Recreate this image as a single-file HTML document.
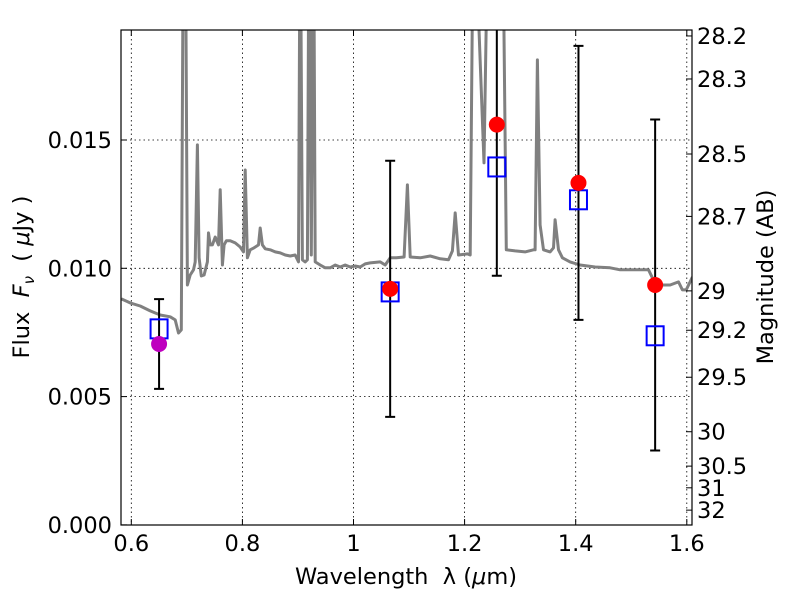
<!DOCTYPE html>
<html><head><meta charset="utf-8"><style>
html,body{margin:0;padding:0;background:#fff;}
svg text{font-family:"DejaVu Sans","Liberation Sans",sans-serif;fill:#000;white-space:pre;}
</style></head><body>
<svg id="chart" width="800" height="600" viewBox="0 0 800 600" xmlns="http://www.w3.org/2000/svg">
<defs><clipPath id="pc"><rect x="121" y="30" width="571" height="495"/></clipPath></defs>
<rect x="0" y="0" width="800" height="600" fill="#fff"/>
<g id="grid"></g>
<g id="spec" clip-path="url(#pc)"></g>
<g id="pts" clip-path="url(#pc)"></g>
<rect x="121" y="30" width="571" height="495" fill="none" stroke="#000" stroke-width="1.2"/>
<g id="axes"></g>
<text x="406" y="584" font-size="22.5" text-anchor="middle">Wavelength&#160;&#160;λ (<tspan font-style="italic">μ</tspan>m)</text>
<text transform="translate(29,277) rotate(-90)" font-size="22.5" text-anchor="middle">Flux&#160;&#160;<tspan font-style="italic">F</tspan><tspan font-style="italic" font-size="15" dy="5">ν</tspan><tspan dy="-5">&#160;&#160;(&#160;</tspan><tspan font-style="italic">μ</tspan>Jy )</text>
<text transform="translate(773,277) rotate(-90)" font-size="22.5" text-anchor="middle">Magnitude (AB)</text>
</svg>
<script>
const specLam=[0.582,0.598,0.616,0.634,0.652,0.670,0.679,0.685,0.690,0.694,0.697,0.701,0.706,0.712,0.715,0.719,0.722,0.726,0.731,0.737,0.739,0.742,0.746,0.751,0.757,0.760,0.764,0.767,0.771,0.778,0.787,0.796,0.802,0.805,0.809,0.814,0.821,0.829,0.832,0.836,0.841,0.850,0.859,0.868,0.877,0.886,0.895,0.901,0.904,0.908,0.913,0.917,0.920,0.924,0.928,0.931,0.940,0.949,0.958,0.967,0.976,0.985,0.994,1.003,1.012,1.021,1.030,1.048,1.057,1.066,1.077,1.091,1.097,1.102,1.120,1.138,1.156,1.171,1.178,1.183,1.189,1.205,1.210,1.216,1.235,1.243,1.268,1.275,1.291,1.309,1.324,1.327,1.331,1.336,1.342,1.354,1.360,1.363,1.369,1.376,1.390,1.408,1.435,1.462,1.480,1.498,1.516,1.531,1.538,1.552,1.570,1.585,1.592,1.599,1.606,1.610];
const specFlux=[0.00881,0.00865,0.00853,0.00834,0.00818,0.00811,0.00799,0.00748,0.00760,0.025,0.025,0.00935,0.00974,0.00994,0.01025,0.01481,0.01041,0.00970,0.00974,0.01025,0.01138,0.01091,0.01091,0.01122,0.01091,0.01306,0.01013,0.01091,0.01107,0.01107,0.01099,0.01083,0.01064,0.01383,0.01041,0.01072,0.01080,0.01091,0.01157,0.01091,0.01076,0.01072,0.01064,0.01060,0.01052,0.01048,0.01052,0.01025,0.025,0.01033,0.01025,0.01033,0.025,0.01052,0.025,0.01025,0.01013,0.01002,0.01002,0.01013,0.01005,0.01013,0.01005,0.01009,0.01005,0.01017,0.01021,0.01025,0.01013,0.01041,0.01041,0.01044,0.01325,0.01044,0.01041,0.01048,0.01037,0.01033,0.01068,0.01216,0.01052,0.01056,0.01052,0.025,0.01411,0.025,0.025,0.01072,0.01068,0.01064,0.01072,0.01072,0.01812,0.01169,0.01072,0.01064,0.01080,0.01189,0.01072,0.01041,0.01025,0.01013,0.01005,0.01002,0.00994,0.00994,0.00994,0.00994,0.00963,0.00935,0.00935,0.00947,0.00916,0.00916,0.00947,0.00966];
const obsLam=[0.650,1.066,1.258,1.405,1.543];
const obsFlux=[0.00705,0.00920,0.01560,0.01333,0.00935];
const obsErr=[0.00175,0.00499,0.00589,0.00534,0.00645];
const modelFlux=[0.00764,0.00908,0.01395,0.01267,0.00737];
const obsColors=['#bf00bf','red','red','red','red'];
const xTicks=[0.6,0.8,1.0,1.2,1.4,1.6];
const xTickLabels=['0.6','0.8','1','1.2','1.4','1.6'];
const yTicks=[0,0.005,0.010,0.015];
const yTickLabels=['0.000','0.005','0.010','0.015'];
const magTicks=[28.2,28.3,28.5,28.7,29,29.2,29.5,30,30.5,31,32];
const magLabels=['28.2','28.3','28.5','28.7','29','29.2','29.5','30','30.5','31','32'];

const X=l=>131.3+(l-0.6)*555.5;
const Y=f=>524.9-f*25660;
const NS='http://www.w3.org/2000/svg';
function mk(tag,attrs,parent){const e=document.createElementNS(NS,tag);for(const k in attrs)e.setAttribute(k,attrs[k]);parent.appendChild(e);return e;}
const grid=document.getElementById('grid'),axes=document.getElementById('axes'),spec=document.getElementById('spec'),pts=document.getElementById('pts');

xTicks.forEach((t,i)=>{
  const x=X(t);
  const g=mk('line',{x1:x,x2:x,y1:30,y2:525,stroke:'#000','stroke-width':0.8,'stroke-dasharray':'1.5,3'},grid);
  
  
  const tb=mk('line',{x1:x,x2:x,y1:525,y2:519,stroke:'#000','stroke-width':1},axes);
  
  
  const tt=mk('line',{x1:x,x2:x,y1:30,y2:36,stroke:'#000','stroke-width':1},axes);
  
  
  const lb=mk('text',{x:x,y:551,'font-size':22.5,'text-anchor':'middle'},axes);
  lb.textContent=xTickLabels[i];
  
  
});
yTicks.forEach((t,i)=>{
  const y=Y(t);
  if(t>0){
  const g=mk('line',{x1:121,x2:692,y1:y,y2:y,stroke:'#000','stroke-width':0.8,'stroke-dasharray':'1.5,3'},grid);
  
  }
  const tk=mk('line',{x1:121,x2:127,y1:y,y2:y,stroke:'#000','stroke-width':1},axes);
  
  
  const lb=mk('text',{x:112,y:y+8,'font-size':22.5,'text-anchor':'end'},axes);
  lb.textContent=yTickLabels[i];
  
  
});
magTicks.forEach((m,i)=>{
  const y=Y(Math.pow(10,(23.9-m)/2.5));
  const tk=mk('line',{x1:686,x2:692,y1:y,y2:y,stroke:'#000','stroke-width':1},axes);
  
  
  const lb=mk('text',{x:697,y:y+8,'font-size':22.5,'text-anchor':'start'},axes);
  lb.textContent=magLabels[i];
  
  
});

const d=specLam.map((l,i)=>(i?'L':'M')+X(l).toFixed(1)+','+Y(specFlux[i]).toFixed(1)).join(' ');
const sp=mk('path',{d:d,fill:'none',stroke:'#808080','stroke-width':3,'stroke-linejoin':'round'},spec);



obsLam.forEach((l,i)=>{
  const x=X(l),y=Y(obsFlux[i]),y1=Y(obsFlux[i]+obsErr[i]),y2=Y(obsFlux[i]-obsErr[i]);
  const eb=mk('path',{d:`M${x},${y1}V${y2}M${x-5},${y1}H${x+5}M${x-5},${y2}H${x+5}`,stroke:'#000','stroke-width':2,fill:'none'},pts);
  
  
  const ym=Y(modelFlux[i]);
  const sq=mk('rect',{x:x-8.5,y:ym-9.5,width:17,height:19,fill:'none',stroke:'#0000ff','stroke-width':2},pts);
  
  
  const c=mk('circle',{cx:x,cy:y,r:8,fill:obsColors[i]},pts);
  
  
});
</script>
</body></html>
